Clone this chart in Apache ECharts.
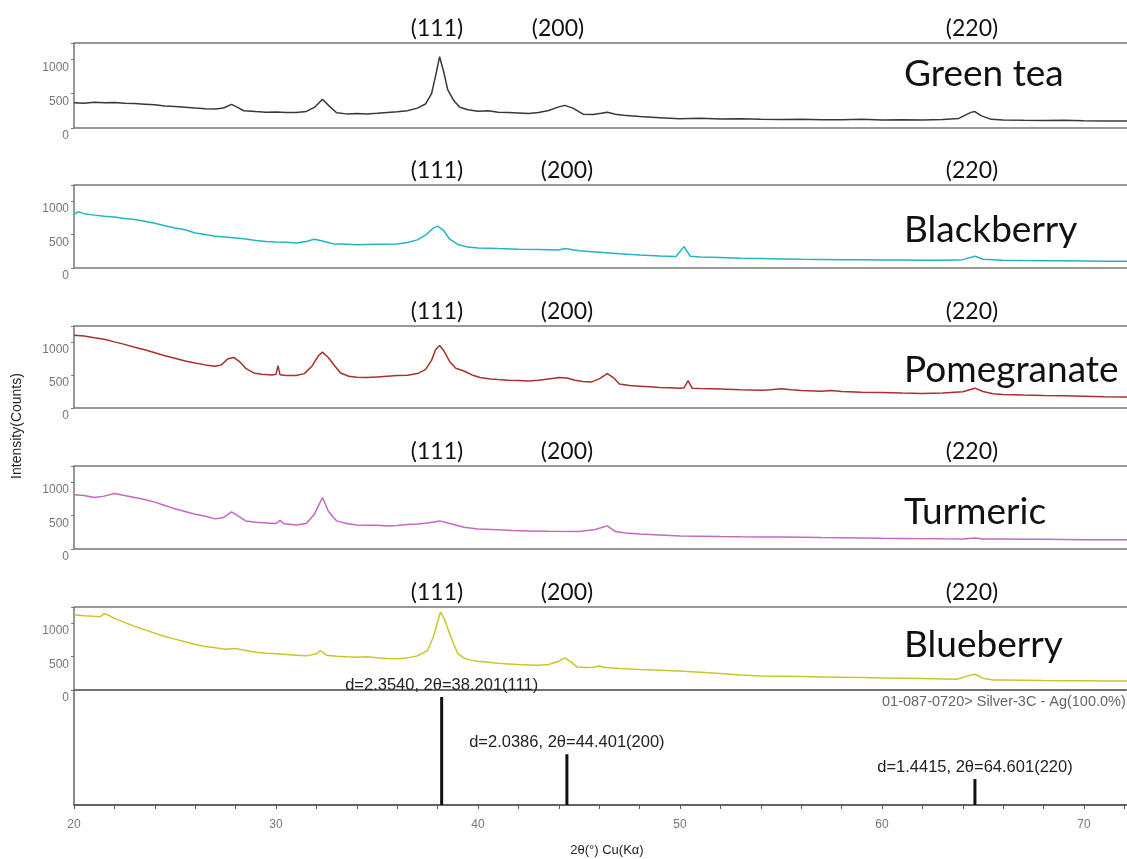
<!DOCTYPE html>
<html>
<head>
<meta charset="utf-8">
<style>
  html, body { margin: 0; padding: 0; background: #fff; overflow: hidden; }
  #chart { width: 1127px; height: 859px; }
</style>
<script src="https://cdn.jsdelivr.net/npm/echarts@6.0.0/dist/echarts.min.js"></script>
</head>
<body>
<div id="chart"></div>
<script>
// XRD patterns, [2theta, counts]
const greenTea = [
  [20, 370], [20.5, 362], [21, 376], [21.5, 368], [22, 372], [22.5, 360], [23, 356], [23.5, 348],
  [24, 338], [24.5, 322], [25, 315], [25.5, 304], [26, 292], [26.5, 281], [27, 276], [27.4, 292],
  [27.8, 345], [28.1, 300], [28.4, 252], [29, 240], [29.5, 231], [30, 234], [30.5, 227], [31, 226],
  [31.5, 242], [31.9, 300], [32.3, 420], [32.6, 330], [33, 222], [33.5, 206], [34, 211], [34.5, 204],
  [35, 214], [35.5, 226], [36, 238], [36.5, 252], [37, 290], [37.4, 350], [37.7, 500], [37.9, 760],
  [38.1, 1040], [38.3, 820], [38.5, 560], [38.8, 400], [39.1, 302], [39.5, 266], [40, 246], [40.5, 251],
  [41, 231], [41.5, 226], [42, 219], [42.5, 211], [43, 226], [43.5, 256], [44, 308], [44.3, 330],
  [44.7, 290], [45.2, 202], [45.7, 196], [46.1, 214], [46.4, 230], [46.8, 200], [47.2, 186], [48, 166],
  [49, 151], [50, 136], [51, 141], [52, 131], [53, 136], [54, 128], [55, 124], [56, 129], [57, 122],
  [58, 120], [59, 126], [60, 118], [61, 121], [62, 117], [63, 125], [63.8, 140], [64.4, 228], [64.6, 240],
  [64.9, 180], [65.4, 126], [66, 116], [67, 112], [68, 111], [69, 113], [70, 105], [71, 103], [72.3, 100]
];

const blackberry = [
  [20, 800], [20.2, 840], [20.5, 812], [21, 790], [21.5, 772], [22, 762], [22.5, 738], [23, 726],
  [23.5, 700], [24, 668], [24.5, 632], [25, 598], [25.5, 572], [26, 522], [26.5, 502], [27, 476],
  [27.5, 462], [28, 448], [28.5, 432], [29, 410], [29.5, 396], [30, 390], [30.5, 386], [31, 374],
  [31.5, 396], [31.9, 430], [32.3, 402], [32.8, 362], [33.5, 356], [34, 348], [35, 356], [36, 360],
  [36.5, 380], [37, 420], [37.4, 490], [37.8, 600], [38, 625], [38.3, 560], [38.6, 430], [39, 352],
  [39.5, 312], [40, 300], [41, 290], [42, 281], [43, 276], [44, 270], [44.3, 290], [45, 256],
  [46, 236], [47, 214], [48, 196], [49, 180], [49.8, 170], [50.2, 320], [50.5, 176], [51, 165],
  [52, 156], [53, 146], [54, 141], [55, 136], [56, 130], [57, 128], [58, 125], [59, 123], [60, 120],
  [61, 118], [62, 116], [63, 115], [64, 125], [64.6, 175], [65, 130], [66, 116], [67, 112], [68, 110],
  [69, 108], [70, 105], [71, 102], [72.3, 100]
];

const pomegranate = [
  [20, 1100], [20.5, 1090], [21, 1062], [21.5, 1040], [22, 1000], [22.5, 962], [23, 920], [23.5, 882],
  [24, 836], [24.5, 790], [25, 752], [25.5, 710], [26, 680], [26.5, 652], [27, 630], [27.3, 652],
  [27.6, 740], [27.9, 765], [28.2, 700], [28.5, 600], [28.9, 530], [29.3, 512], [29.8, 500], [30, 510],
  [30.1, 640], [30.2, 502], [30.5, 490], [31, 492], [31.4, 520], [31.8, 640], [32.1, 790], [32.3, 845],
  [32.6, 760], [32.9, 640], [33.2, 530], [33.6, 480], [34, 466], [34.5, 460], [35, 470], [35.5, 480],
  [36, 490], [36.5, 496], [37, 520], [37.4, 580], [37.7, 720], [37.9, 880], [38.1, 945], [38.3, 870],
  [38.6, 700], [38.9, 600], [39.3, 560], [39.7, 500], [40.1, 460], [40.6, 440], [41, 430], [41.5, 420],
  [42, 415], [42.5, 410], [43, 420], [43.5, 440], [44, 460], [44.4, 455], [44.8, 420], [45.2, 400],
  [45.6, 392], [46, 440], [46.4, 520], [46.7, 460], [47, 362], [47.5, 340], [48, 330], [48.5, 320],
  [49, 310], [49.5, 305], [50, 300], [50.2, 305], [50.4, 415], [50.6, 300], [51, 295], [52, 286],
  [53, 276], [54, 270], [54.5, 276], [55, 290], [55.5, 276], [56, 265], [57, 255], [57.5, 265],
  [58, 250], [59, 240], [60, 235], [61, 226], [62, 220], [63, 225], [64, 245], [64.6, 300], [65, 250],
  [65.5, 216], [66, 206], [67, 196], [68, 190], [69, 185], [70, 178], [71, 170], [72.3, 165]
];

const turmeric = [
  [20, 810], [20.5, 800], [21, 770], [21.5, 790], [22, 830], [22.5, 800], [23, 770], [23.5, 740],
  [24, 700], [24.5, 650], [25, 600], [25.5, 560], [26, 520], [26.5, 490], [27, 450], [27.4, 470],
  [27.8, 555], [28.1, 500], [28.5, 420], [29, 400], [29.5, 390], [30, 380], [30.2, 430], [30.4, 376],
  [31, 360], [31.5, 380], [31.9, 520], [32.3, 770], [32.6, 560], [33, 420], [33.5, 380],
  [34, 360], [34.5, 356], [35, 355], [35.5, 345], [36, 350], [36.5, 365], [37, 375], [37.5, 390],
  [38.1, 420], [38.6, 380], [39.3, 325], [40, 300], [41, 286], [41.7, 275], [42.5, 270], [43.5, 265],
  [45, 260], [45.8, 290], [46.4, 345], [46.8, 260], [47.3, 240], [48, 225], [49, 210], [50, 195],
  [51, 190], [52, 185], [53, 182], [54, 180], [55, 180], [56, 175], [57, 170], [58, 168], [59, 165],
  [60, 160], [61, 158], [62, 155], [63, 152], [64, 150], [64.6, 165], [65, 150], [66, 148], [67, 145],
  [68, 145], [69, 142], [70, 140], [71, 140], [72.3, 138]
];

const blueberry = [
  [20, 1125], [20.5, 1110], [21, 1100], [21.3, 1095], [21.5, 1140], [21.7, 1120], [22, 1070], [22.5, 1010],
  [23, 950], [23.5, 900], [24, 850], [24.5, 800], [25, 760], [25.5, 720], [26, 680], [26.5, 650],
  [27, 630], [27.5, 610], [28, 620], [28.5, 590], [29, 565], [29.5, 550], [30, 540], [30.5, 530],
  [31, 520], [31.5, 510], [32, 540], [32.2, 590], [32.5, 520], [33, 505], [33.5, 495], [34, 490],
  [34.5, 495], [35, 480], [35.5, 470], [36, 465], [36.5, 480], [37, 510], [37.5, 590], [37.8, 800],
  [38, 1020], [38.15, 1165], [38.35, 1050], [38.6, 840], [38.8, 680], [39, 545], [39.3, 480], [39.6, 450],
  [40, 430], [40.5, 415], [41, 400], [41.5, 390], [42, 380], [42.5, 375], [43, 370], [43.5, 380],
  [44, 430], [44.3, 480], [44.6, 420], [44.9, 345], [45.3, 335], [45.7, 340], [46, 360], [46.3, 335],
  [47, 320], [48, 305], [49, 295], [50, 285], [51, 265], [52, 245], [53, 225], [54, 210], [55, 205],
  [56, 200], [57, 195], [58, 190], [59, 185], [60, 180], [61, 175], [62, 170], [63, 165], [63.7, 160],
  [64.3, 215], [64.6, 235], [65, 175], [65.5, 150], [66, 148], [67, 145], [68, 142], [69, 140],
  [70, 138], [71, 136], [72.3, 135]
];

const sampleNames = ['Green tea', 'Blackberry', 'Pomegranate', 'Turmeric', 'Blueberry'];
const sampleColors = ['#383838', '#22b5bf', '#a8302e', '#c468c4', '#c9c62a'];
const sampleData = [greenTea, blackberry, pomegranate, turmeric, blueberry];

// reference pattern 01-087-0720 (silver)
const refTheta = [38.201, 44.401, 64.601];
const refIntensity = [100, 47, 24];
const refText = ['d=2.3540, 2θ=38.201(111)', 'd=2.0386, 2θ=44.401(200)', 'd=1.4415, 2θ=64.601(220)'];

const hklText = ['(111)', '(200)', '(220)'];
const yTicks = [0, 500, 1000];

// layout; plot runs a little past the right edge so its right border is cut off
const panelTop = [43, 185, 326, 466, 607];
const panelHeight = [85, 83, 82, 83, 83];
const refTop = 690;
const refHeight = 115;
const plotLeft = 74;
const plotWidth = 1056;
const xMax = 20 + plotWidth / 20.2;
const hklX = [[437, 558, 972], [437, 567, 972], [437, 567, 972], [437, 567, 972], [437, 567, 972]];
const nameY = [74, 230, 370, 512, 645];

const chart = echarts.init(document.getElementById('chart'));

const grids = [];
const xAxes = [];
const yAxes = [];
const series = [];

sampleData.forEach((d, i) => {
  grids.push({
    left: plotLeft, width: plotWidth, top: panelTop[i], height: panelHeight[i],
    outerBoundsMode: 'none', containLabel: false,
    show: true, borderColor: '#777', borderWidth: 1.5
  });
  xAxes.push({
    type: 'value', gridIndex: i, min: 20, max: xMax,
    axisLine: { show: false }, axisTick: { show: false },
    axisLabel: { show: false }, splitLine: { show: false }
  });
  yAxes.push({
    type: 'value', gridIndex: i, min: 0, max: 1240, interval: 500,
    axisLine: { show: false },
    axisTick: { show: true, length: 3, lineStyle: { color: '#777' } },
    splitLine: { show: false },
    axisLabel: {
      color: '#777', fontFamily: 'Arial', fontSize: 12, margin: 5,
      verticalAlign: 'top', padding: [2, 0, 0, 0],
      formatter: v => (yTicks.indexOf(v) >= 0 ? String(v) : '')
    }
  });
  series.push({
    name: sampleNames[i], type: 'line', xAxisIndex: i, yAxisIndex: i,
    data: d, showSymbol: false, smooth: false,
    lineStyle: { color: sampleColors[i], width: 1.5 }
  });
});

// reference stick panel
grids.push({
  left: plotLeft, width: plotWidth, top: refTop, height: refHeight,
  outerBoundsMode: 'none', containLabel: false,
  show: true, borderColor: '#666', borderWidth: 1.5
});
xAxes.push({
  type: 'value', gridIndex: 5, min: 20, max: xMax, interval: 2,
  axisLine: { show: true, lineStyle: { color: '#555', width: 1.5 } },
  axisTick: { show: true, length: 4, lineStyle: { color: '#555' } },
  splitLine: { show: false },
  axisLabel: {
    color: '#777', fontFamily: 'Arial', fontSize: 12, margin: 14,
    formatter: v => (v % 10 === 0 ? String(v) : '')
  }
});
yAxes.push({
  type: 'value', gridIndex: 5, min: 0, max: 106.5,
  axisLine: { show: false }, axisTick: { show: false },
  axisLabel: { show: false }, splitLine: { show: false }
});
series.push({
  type: 'bar', xAxisIndex: 5, yAxisIndex: 5, barWidth: 3,
  itemStyle: { color: '#111' },
  data: refTheta.map((t, i) => [t, refIntensity[i]]),
  label: {
    show: true, position: 'top', distance: 3,
    color: '#222', fontFamily: 'Arial', fontSize: 16.5,
    formatter: p => refText[p.dataIndex]
  }
});

const graphics = [];
sampleNames.forEach((name, i) => {
  hklText.forEach((t, j) => {
    graphics.push({
      type: 'text', x: hklX[i][j], y: panelTop[i] - 14,
      style: { text: t, fill: '#111', font: '23px Lato', align: 'center', verticalAlign: 'middle' }
    });
  });
  graphics.push({
    type: 'text', x: 904, y: nameY[i],
    style: { text: name, fill: '#111', font: '37px Lato', align: 'left', verticalAlign: 'middle' }
  });
});
graphics.push({
  type: 'text', x: 882, y: 702,
  style: { text: '01-087-0720> Silver-3C - Ag(100.0%)', fill: '#666', font: '14.5px Arial', verticalAlign: 'middle' }
});
graphics.push({
  type: 'text', x: 17, y: 426, rotation: Math.PI / 2,
  style: { text: 'Intensity(Counts)', fill: '#222', font: '14px Arial', align: 'center', verticalAlign: 'middle' }
});
graphics.push({
  type: 'text', x: 607, y: 850,
  style: { text: '2θ(°) Cu(Kα)', fill: '#222', font: '13px Arial', align: 'center', verticalAlign: 'middle' }
});

chart.setOption({
  animation: false,
  backgroundColor: '#fff',
  grid: grids,
  xAxis: xAxes,
  yAxis: yAxes,
  series: series,
  graphic: graphics
});
</script>
</body>
</html>
